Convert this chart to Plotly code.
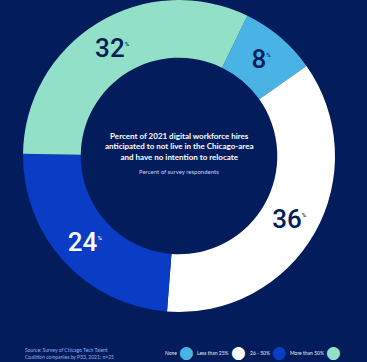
import plotly.graph_objects as go

categories = ["None", "Less than 25%", "26 - 50%", "More than 50%"]
values = [8, 36, 24, 32]
colors = ["#4AB3E6", "#FFFFFF", "#0A3CC6", "#93E0C9"]
label_colors = ["#031D5C", "#031D5C", "#FFFFFF", "#031D5C"]

title_lines = ["Percent of 2021 digital workforce hires",
               "anticipated to not live in the Chicago-area",
               "and have no intention to relocate"]
subtitle = "Percent of survey respondents"
source_lines = ["Source: Survey of Chicago Tech Talent",
                "Coalition companies by P33, 2021; n=25"]

BG = "#031D5C"
W, H = 367, 362
cx, cy, r = 179, 156, 156

fig = go.Figure()
fig.add_trace(go.Pie(
    labels=categories, values=values, sort=False, direction="clockwise",
    rotation=26, hole=0.63,
    marker=dict(colors=colors, line=dict(width=0)),
    texttemplate="%{value}<sup><span style='font-size:6px'>%</span></sup>",
    textposition="inside", insidetextorientation="horizontal",
    textfont=dict(family="Roboto, sans-serif", size=26, weight=500, color=label_colors),
    domain=dict(x=[(cx - r) / W, (cx + r) / W], y=[1 - (cy + r) / H, 1 - (cy - r) / H]),
    showlegend=False, hoverinfo="label+percent",
))

def ann(text, x, y, size, color, xanchor="center", family="Lato, sans-serif", align="center"):
    return dict(text=text, x=x / W, y=1 - y / H, xref="paper", yref="paper", showarrow=False,
                xanchor=xanchor, yanchor="middle", align=align,
                font=dict(family=family, size=size, color=color))

annotations = [
    ann("<b>" + "<br>".join(title_lines) + "</b>", cx, 146, 8, "#FFFFFF"),
    ann(subtitle, cx, 171.5, 6, "#C8D2EC"),
    ann("<br>".join(source_lines), 23, 353.5, 5, "#8FB0F0", xanchor="left", align="left"),
]

legend_text_right = [179, 231, 272, 326]
legend_dot_x = [186, 238, 279, 333]
for name, col, tx, dx in zip(categories, colors, legend_text_right, legend_dot_x):
    annotations.append(ann(name, tx, 353, 5, "#E6EAF4", xanchor="right"))
    annotations.append(ann("●", dx, 352, 17, col, family="DejaVu Sans"))

fig.update_layout(
    width=W, height=H, margin=dict(l=0, r=0, t=0, b=0),
    paper_bgcolor=BG, plot_bgcolor=BG, annotations=annotations,
)
fig.write_html("out.html", config={"displayModeBar": False},
               post_script="document.body.style.margin='0';document.body.style.overflow='hidden';")
